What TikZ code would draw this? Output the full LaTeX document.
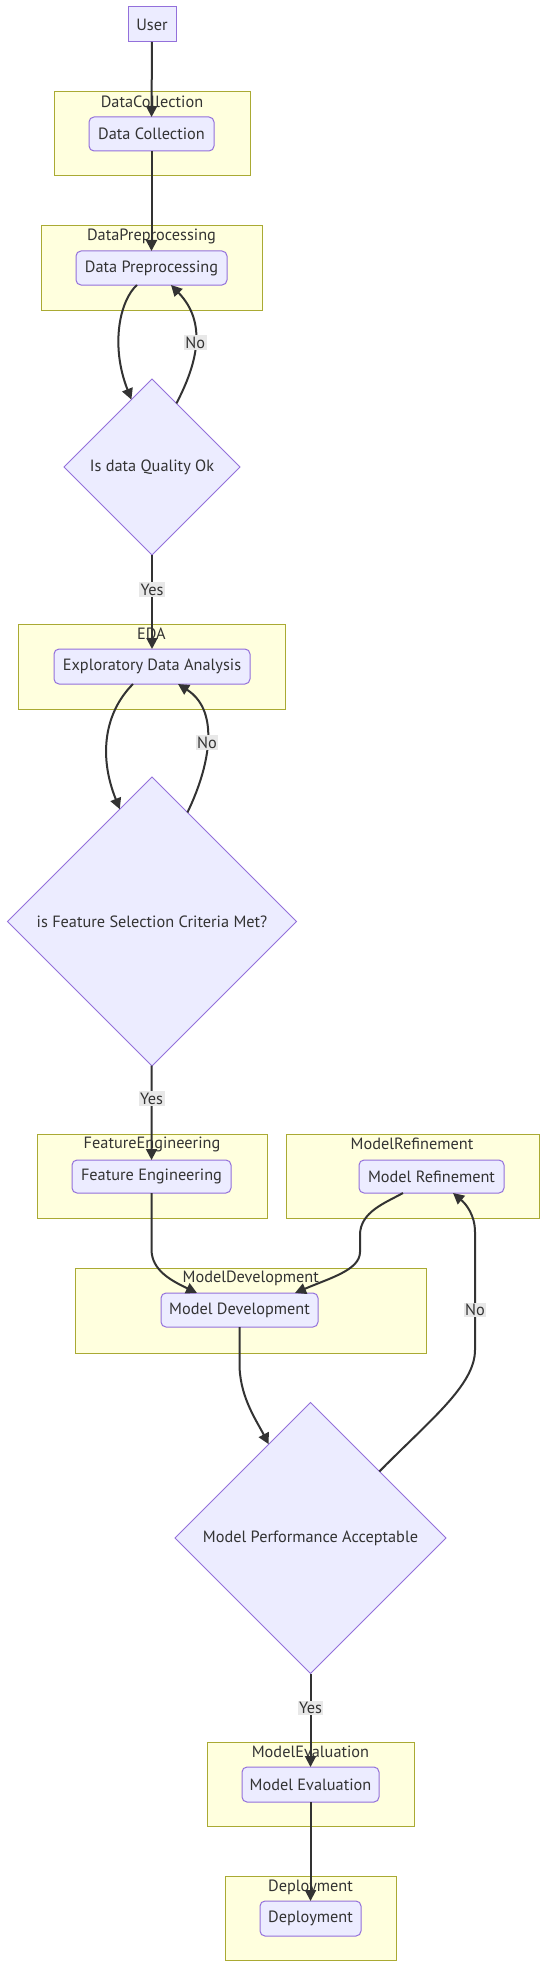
\documentclass[tikz,border=0pt]{standalone}
\usepackage{fontspec}
\newfontfamily\mf{PT Sans}
\usetikzlibrary{shapes.geometric,arrows.meta}
\definecolor{clfill}{HTML}{FFFFDE}
\definecolor{cldraw}{HTML}{AAAA33}
\definecolor{ndfill}{HTML}{ECECFF}
\definecolor{nddraw}{HTML}{9370DB}
\definecolor{txt}{HTML}{333333}
\definecolor{lblbg}{HTML}{E8E8E8}
\tikzset{
  every node/.style={font=\mf\fontsize{16.3}{19}\selectfont, text=txt, outer sep=0pt},
  cluster/.style={draw=cldraw, fill=clfill, line width=1pt, inner sep=0pt},
  clabel/.style={inner sep=0pt},
  proc/.style={draw=nddraw, fill=ndfill, line width=1pt, rounded corners=5pt, inner sep=0pt},
  plain/.style={draw=nddraw, fill=ndfill, line width=1pt, inner sep=0pt},
  decision/.style={diamond, aspect=1, draw=nddraw, fill=ndfill, line width=0.8pt, inner sep=0pt},
  edge/.style={draw=txt, line width=2pt, -{Triangle[length=11pt,width=11pt]}},
  lbl/.style={fill=lblbg, inner sep=1.5pt, text=txt}
}
\begin{document}
\begin{tikzpicture}[x=1pt,y=-1pt]
\useasboundingbox[fill=white] (0,0) rectangle (547,1969);
% clusters
\node[cluster, minimum width=196, minimum height=84] (cDC) at (152,134) {};
\node[cluster, minimum width=221, minimum height=84] (cDP) at (151.5,268) {};
\node[cluster, minimum width=267, minimum height=85] (cEDA) at (151.5,666.5) {};
\node[cluster, minimum width=230, minimum height=84] (cFE) at (152,1176) {};
\node[cluster, minimum width=252.5, minimum height=84] (cMR) at (412.75,1176) {};
\node[cluster, minimum width=351.5, minimum height=85] (cMD) at (250.75,1310.5) {};
\node[cluster, minimum width=207, minimum height=84] (cME) at (310.5,1784) {};
\node[cluster, minimum width=171, minimum height=84] (cDep) at (310.5,1918) {};
% cluster labels
\node[clabel] (lDC) at ([yshift=-9.5pt]cDC.north) {DataCollection};
\node[clabel] (lDP) at ([yshift=-10pt]cDP.north) {DataPreprocessing};
\node[clabel] (lEDA) at ([yshift=-10pt]cEDA.north) {EDA};
\node[clabel] (lFE) at ([yshift=-10pt]cFE.north) {FeatureEngineering};
\node[clabel] (lMR) at ([yshift=-10pt,xshift=-0.75pt]cMR.north) {ModelRefinement};
\node[clabel] (lMD) at ([yshift=-10pt]cMD.north) {ModelDevelopment};
\node[clabel] (lME) at ([yshift=-10pt]cME.north) {ModelEvaluation};
\node[clabel] (lDep) at ([yshift=-11pt]cDep.north) {Deployment};
% nodes
\node[plain, minimum width=48, minimum height=35] (user) at (152,24.5) {User};
\node[proc, minimum width=125, minimum height=34] (dc) at (151.5,134) {Data Collection};
\node[proc, minimum width=151, minimum height=34] (dp) at (151.5,268) {Data Preprocessing};
\node[decision, minimum width=176, minimum height=176] (d1) at (152,467) {Is data Quality Ok};
\node[proc, minimum width=196, minimum height=35] (eda) at (152,666.5) {Exploratory Data Analysis};
\node[decision, minimum width=289, minimum height=289] (d2) at (152,921.5) {is Feature Selection Criteria Met?};
\node[proc, minimum width=159, minimum height=33] (fe) at (151.5,1176.5) {Feature Engineering};
\node[proc, minimum width=145, minimum height=33] (mr) at (431.5,1176.5) {Model Refinement};
\node[proc, minimum width=157, minimum height=34] (md) at (239.5,1310) {Model Development};
\node[decision, minimum width=271, minimum height=271] (d3) at (310.5,1538) {Model Performance Acceptable};
\node[proc, minimum width=137, minimum height=35] (me) at (310.5,1784.5) {Model Evaluation};
\node[proc, minimum width=101, minimum height=35] (dep) at (310.5,1918.5) {Deployment};
% edges
\draw[edge] (user) -- (dc);
\draw[edge] (dc) -- (dp);
\draw[edge] ([xshift=-14.5pt]dp.south) .. controls (120,300) and (110,345) .. (d1.107);
\draw[edge] (d1.69) .. controls (198,362) and (207,322) .. node[lbl, pos=0.5] {No} ([xshift=19.5pt]dp.south);
\draw[edge] (d1) -- node[lbl, pos=0.37] {Yes} (eda);
\draw[edge] ([xshift=-19pt]eda.south) .. controls (105,712) and (98,755) .. (d2.106);
\draw[edge] (d2.72) .. controls (208,770) and (222,712) .. node[lbl, pos=0.5] {No} ([xshift=26pt]eda.south);
\draw[edge] (d2) -- node[lbl, pos=0.35] {Yes} (fe);
\draw[edge] (fe.south) -- ([yshift=-57pt]fe.south) .. controls (152,1270) and (170,1280) .. ([xshift=-42.5pt]md.north);
\draw[edge] ([xshift=-28.5pt]mr.south) .. controls (385,1203) and (360,1212) .. (360,1235) -- (360,1252) .. controls (360,1270) and (330,1278) .. ([xshift=55.5pt]md.north);
\draw[edge] (md.south) -- ([yshift=-35pt]md.south) .. controls (239,1395) and (255,1418) .. (d3.114);
\draw[edge] (d3.44) .. controls (430,1420) and (475,1385) .. (475,1350) -- node[lbl, pos=0.34] {No} (475,1232) .. controls (475,1215) and (466,1204) .. ([xshift=21.5pt]mr.south);
\draw[edge] (d3) -- node[lbl, pos=0.37] {Yes} (me);
\draw[edge] (me) -- (dep);
\end{tikzpicture}
\end{document}
